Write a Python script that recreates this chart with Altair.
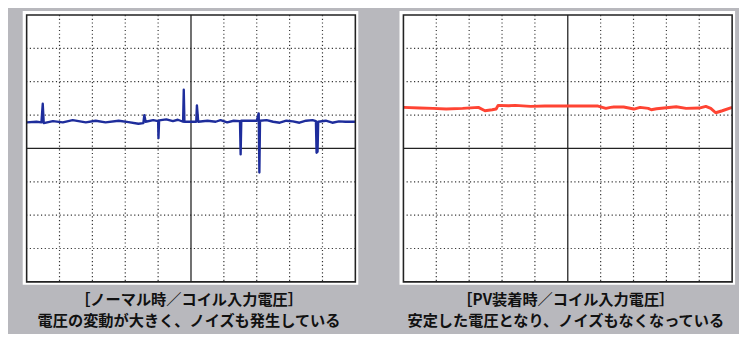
import altair as alt
import pandas as pd

# ---- data (divisions: x 0..10, y -4..4) ----
normal_x = [0.0, 0.3, 0.45, 0.49, 0.52, 0.8, 1.1, 1.4, 1.8, 2.1, 2.4, 2.8, 3.1, 3.4, 3.55, 3.58, 3.62,
            3.85, 4.0, 4.01, 4.03, 4.25, 4.45, 4.6, 4.76, 4.78, 4.80, 5.0, 5.16, 5.18, 5.22, 5.5, 5.75,
            5.9, 6.1, 6.3, 6.49, 6.51, 6.53, 6.8, 7.0, 7.06, 7.08, 7.10, 7.3, 7.5, 7.7, 7.9, 8.1, 8.3,
            8.5, 8.7, 8.80, 8.82, 8.85, 8.87, 9.1, 9.3, 9.5, 9.7, 10.0]
normal_y = [0.78, 0.80, 0.78, 1.34, 0.76, 0.82, 0.78, 0.85, 0.78, 0.83, 0.78, 0.83, 0.79, 0.74, 0.76, 1.00, 0.80,
            0.85, 0.82, 0.31, 0.84, 0.87, 0.82, 0.86, 0.80, 1.76, 0.80, 0.80, 0.80, 1.29, 0.80, 0.83, 0.80,
            0.85, 0.78, 0.83, 0.82, -0.18, 0.83, 0.83, 0.83, 1.05, -0.72, 0.83, 0.85, 0.80, 0.77, 0.83, 0.81, 0.77,
            0.83, 0.85, 0.82, -0.13, -0.10, 0.80, 0.83, 0.77, 0.81, 0.80, 0.80]

pv_x = [0.0, 0.5, 0.9, 1.3, 1.8, 2.28, 2.48, 2.70, 2.82, 2.88, 3.2, 3.4, 3.87, 4.3, 4.87, 5.5, 5.92,
        6.16, 6.3, 6.4, 6.7, 7.01, 7.2, 7.45, 7.54, 7.7, 8.0, 8.30, 8.6, 9.0, 9.2, 9.35, 9.5, 9.7, 10.0]
pv_y = [1.23, 1.21, 1.20, 1.18, 1.20, 1.23, 1.13, 1.16, 1.18, 1.29, 1.28, 1.29, 1.26, 1.27, 1.27, 1.27, 1.27,
        1.20, 1.23, 1.24, 1.24, 1.18, 1.23, 1.20, 1.16, 1.19, 1.22, 1.25, 1.20, 1.21, 1.26, 1.20, 1.07, 1.13, 1.23]

grid_x = [1, 2, 3, 4, 6, 7, 8, 9]
grid_y = [-3, -2, -1, 1, 2, 3]
center_x = [5]
center_y = [0]
frame_x = [0, 10]
frame_y = [-4, 4]

captions_normal = ["［ノーマル時／コイル入力電圧］", "電圧の変動が大きく、ノイズも発生している"]
captions_pv = ["［PV装着時／コイル入力電圧］", "安定した電圧となり、ノイズもなくなっている"]

W, H = 335, 272
FONT = "Noto Sans CJK JP"

xs = alt.Scale(domain=[0, 10], nice=False, zero=False)
ys = alt.Scale(domain=[-4, 4], nice=False, zero=False)


def panel(tx, ty, color, width, captions):
    one = pd.DataFrame({"a": [0]})
    bg = alt.Chart(one).mark_rect(fill="white").encode(
        x=alt.value(-4), x2=alt.value(W + 3), y=alt.value(-4), y2=alt.value(H + 3))
    gx = alt.Chart(pd.DataFrame({"gx": grid_x})).mark_rule(
        color="#333", strokeWidth=1.2, strokeDash=[1.2, 2.6]).encode(
        x=alt.X("gx:Q", scale=xs, axis=None))
    gy = alt.Chart(pd.DataFrame({"gy": grid_y})).mark_rule(
        color="#333", strokeWidth=1.2, strokeDash=[1.2, 2.6]).encode(
        y=alt.Y("gy:Q", scale=ys, axis=None))
    cx = alt.Chart(pd.DataFrame({"cx": center_x})).mark_rule(
        color="#222", strokeWidth=1.3).encode(x=alt.X("cx:Q", scale=xs, axis=None))
    cy = alt.Chart(pd.DataFrame({"cy": center_y})).mark_rule(
        color="#222", strokeWidth=1.3).encode(y=alt.Y("cy:Q", scale=ys, axis=None))
    fr = alt.Chart(pd.DataFrame({"x0": [frame_x[0]], "x1": [frame_x[1]],
                                 "y0": [frame_y[0]], "y1": [frame_y[1]]})).mark_rect(
        fill=None, stroke="#222", strokeWidth=1.6).encode(
        x=alt.X("x0:Q", scale=xs, axis=None), x2="x1:Q",
        y=alt.Y("y0:Q", scale=ys, axis=None), y2="y1:Q")
    df = pd.DataFrame({"t": tx, "v": ty, "i": list(range(len(tx)))})
    ln = alt.Chart(df).mark_line(color=color, strokeWidth=width, strokeJoin="round").encode(
        x=alt.X("t:Q", scale=xs, axis=None),
        y=alt.Y("v:Q", scale=ys, axis=None),
        order="i:Q")
    t1 = alt.Chart(pd.DataFrame({"c": [captions[0]]})).mark_text(
        font=FONT, fontSize=15.5, fontWeight="bold", color="#111", baseline="middle", align="center").encode(
        text="c:N", x=alt.value(W / 2 - 2), y=alt.value(291))
    t2 = alt.Chart(pd.DataFrame({"c": [captions[1]]})).mark_text(
        font=FONT, fontSize=15.5, fontWeight="bold", color="#111", baseline="middle", align="center").encode(
        text="c:N", x=alt.value(W / 2 - 2), y=alt.value(311.5))
    return alt.layer(bg, gx, gy, cx, cy, ln, fr, t1, t2).properties(width=W, height=H)


left = panel(normal_x, normal_y, "#1e2d9c", 2.4, captions_normal)
right = panel(pv_x, pv_y, "#ff4433", 3.0, captions_pv)

chart = alt.hconcat(left, right, spacing=42).properties(
    padding={"left": 15, "top": 0, "right": 4, "bottom": 2},
    background="#b8b8bd",
).configure_view(stroke=None, fill="white")

chart.save("out.html", embed_options={"renderer": "svg", "actions": False})
